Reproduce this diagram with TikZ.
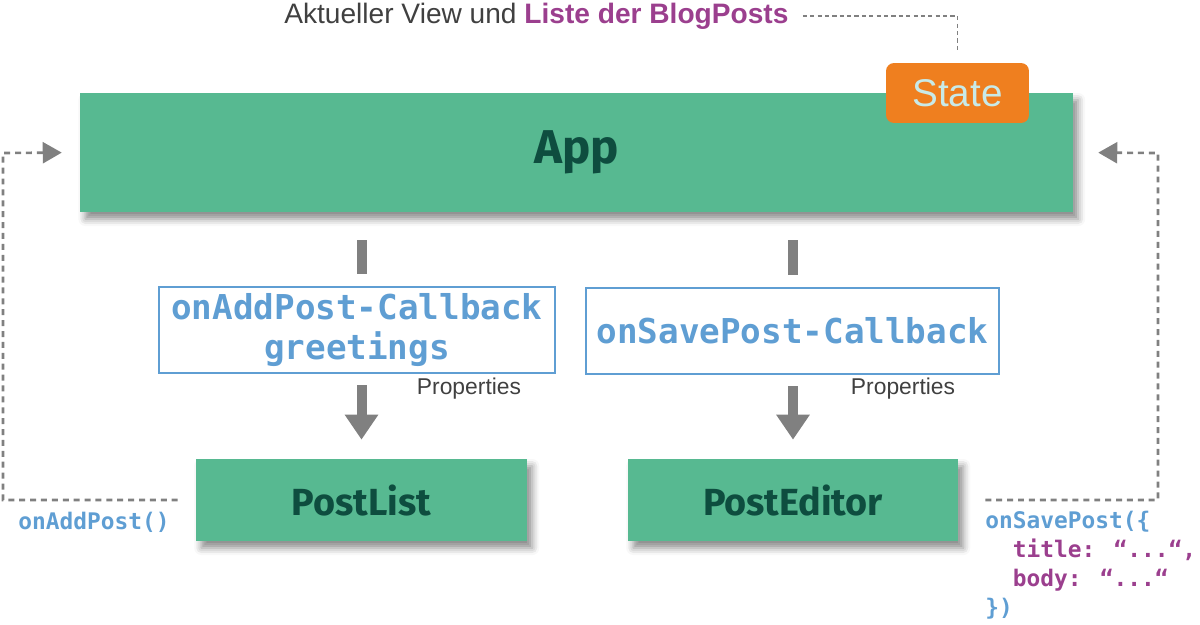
\documentclass[tikz,border=0pt]{standalone}
\usepackage{fontspec}
\setmainfont{Liberation Sans}
\newfontfamily\codefont{DejaVu Sans Mono}
\newfontfamily\compfont{Fira Sans}
\usepackage{tikz}
\usetikzlibrary{arrows.meta,shadows.blur}
\definecolor{CompGreen}{HTML}{57B991}
\definecolor{CompText}{HTML}{0E4D3F}
\definecolor{PropBlue}{HTML}{5F9ED3}
\definecolor{ArgPurple}{HTML}{9B3F8E}
\definecolor{StateOrange}{HTML}{EF7F1F}
\definecolor{StateText}{HTML}{C8EAE8}
\definecolor{LinkGray}{HTML}{808080}
\definecolor{NoteGray}{HTML}{404040}

\begin{document}
\begin{tikzpicture}[x=0.02cm, y=-0.02cm,
      comp/.style={fill=CompGreen, text=CompText, font=\compfont\bfseries\fontsize{21.5}{25}\selectfont,
        blur shadow={shadow xshift=3pt, shadow yshift=-4pt, shadow blur radius=4pt, shadow opacity=45}},
      props/.style={draw=PropBlue, line width=1.2pt, fill=white, text=PropBlue, align=center,
        font=\codefont\bfseries\fontsize{19.5}{23}\selectfont, minimum height=1.72cm, inner sep=0pt},
      note/.style={text=NoteGray, font=\fontsize{13}{15}\selectfont, inner sep=0pt},
      code/.style={text=PropBlue, font=\codefont\bfseries\fontsize{13}{16.4}\selectfont, inner sep=0pt, align=left},
      bar/.style={draw=LinkGray, line width=0.2cm},
      pass/.style={draw=LinkGray, line width=0.2cm, -{Triangle[length=0.5cm, width=0.64cm]}},
      feedback/.style={draw=LinkGray, line width=1.5pt, dash pattern=on 3.4pt off 2.8pt,
        -{Triangle[length=0.38cm, width=0.42cm]}},
      hint/.style={draw=LinkGray, line width=0.6pt, dash pattern=on 2.4pt off 1.8pt}]
    \useasboundingbox (0,0) rectangle (1200,625);
    \node (app) [comp, minimum width=19.86cm, minimum height=2.38cm, font=\compfont\bfseries\fontsize{27}{31}\selectfont] at (576.5,152.5) {App};
    \node (state) [fill=StateOrange, rounded corners=0.16cm, text=StateText, minimum width=2.86cm,
      minimum height=1.2cm, font=\fontsize{22}{26}\selectfont] at (957.5,93) {State};
    \node (title) [anchor=west, inner sep=0pt, text=NoteGray, font=\fontsize{16}{19}\selectfont] at (284,16)
      {Aktueller View und \textcolor{ArgPurple}{\bfseries Liste der BlogPosts}};
    \node (addprops) [props, minimum width=7.92cm] at (357,330) {onAddPost-Callback\\greetings};
    \node (saveprops) [props, minimum width=8.26cm] at (792.5,331) {onSavePost-Callback};
    \node (list) [comp, minimum width=6.62cm, minimum height=1.64cm] at (361.5,500) {PostList};
    \node (editor) [comp, minimum width=6.6cm, minimum height=1.64cm] at (793,500) {PostEditor};
    \node (addlabel) [note] at (469,389) {Properties};
    \node (savelabel) [note] at (903,389) {Properties};
    \node (addcall) [code, anchor=west] at (18,522) {onAddPost()};
    \node (savecall) [code, anchor=north west] at (985,511)
      {onSavePost(\{\\\ \ \textcolor{ArgPurple}{title: “...“,}\\\ \ \textcolor{ArgPurple}{body: “...“}\\\})};
    \coordinate (lcorner) at (3,153);
    \coordinate (rcorner) at (1158,153);
    \draw[hint, shorten <=0.28cm, shorten >=0.26cm] (title.east) -| (state.north);
    \draw[bar, shorten <=0.56cm, shorten >=0.24cm] (app.south -| list.north) -- (addprops.north -| list.north);
    \draw[bar, shorten <=0.56cm, shorten >=0.24cm] (app.south -| editor.north) -- (saveprops.north -| editor.north);
    \draw[pass, shorten <=0.22cm, shorten >=0.38cm] (addprops.south -| list.north) -- (list.north);
    \draw[pass, shorten <=0.22cm, shorten >=0.38cm] (saveprops.south -| editor.north) -- (editor.north);
    \draw[feedback, shorten <=0.36cm, shorten >=0.36cm] (list.west) -| (lcorner) -- (app.west);
    \draw[feedback, shorten <=0.54cm, shorten >=0.5cm] (editor.east) -| (rcorner) -- (app.east);
  \end{tikzpicture}
\end{document}
